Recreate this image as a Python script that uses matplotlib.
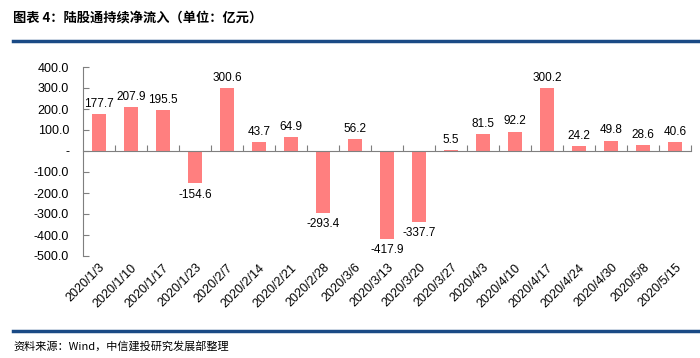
import matplotlib
matplotlib.use("Agg")
import matplotlib.pyplot as plt
from matplotlib.ticker import FuncFormatter, FixedLocator

plt.rcParams['font.family'] = ['Liberation Sans', 'Noto Sans CJK SC', 'DejaVu Sans']

dates = ["2020/1/3", "2020/1/10", "2020/1/17", "2020/1/23", "2020/2/7", "2020/2/14",
         "2020/2/21", "2020/2/28", "2020/3/6", "2020/3/13", "2020/3/20", "2020/3/27",
         "2020/4/3", "2020/4/10", "2020/4/17", "2020/4/24", "2020/4/30", "2020/5/8", "2020/5/15"]
values = [177.7, 207.9, 195.5, -154.6, 300.6, 43.7, 64.9, -293.4, 56.2, -417.9, -337.7,
          5.5, 81.5, 92.2, 300.2, 24.2, 49.8, 28.6, 40.6]
yticks = [400, 300, 200, 100, 0, -100, -200, -300, -400, -500]

title = "图表 4：陆股通持续净流入（单位：亿元）"
source = "资料来源：Wind，中信建投研究发展部整理"

bar_color = "#FF7F7F"
navy = "#1A4A85"
gray = "#7F7F7F"

fig = plt.figure(figsize=(7.0, 3.58), dpi=100)
ax = fig.add_axes([83/700, (358-256)/358, (691-83)/700, (256-67)/358])

x = list(range(len(dates)))
bars = ax.bar(x, values, width=0.42, color=bar_color, zorder=2)

for xi, v in zip(x, values):
    if v >= 0:
        ax.annotate(f"{v:.1f}", (xi, v), xytext=(0, 3), textcoords="offset points",
                    ha="center", va="bottom", fontsize=8.5)
    else:
        ax.annotate(f"{v:.1f}", (xi, v), xytext=(0, -4), textcoords="offset points",
                    ha="center", va="top", fontsize=8.5)

ax.set_xlim(-0.5, len(dates) - 0.5)
ax.set_ylim(-500, 400)
ax.set_yticks(yticks)
ax.yaxis.set_major_formatter(FuncFormatter(lambda v, p: "-" if v == 0 else f"{v:.1f}"))
ax.tick_params(axis="y", direction="in", length=4, color=gray, labelsize=9, pad=10)

for s in ["top", "right"]:
    ax.spines[s].set_visible(False)
ax.spines["left"].set_color(gray)
ax.spines["bottom"].set_position(("data", 0))
ax.spines["bottom"].set_color(gray)
ax.xaxis.set_major_locator(FixedLocator([i + 0.5 for i in range(len(dates) - 1)] + [len(dates) - 0.5]))
ax.tick_params(axis="x", direction="in", length=4, color=gray, labelbottom=False)

sec = ax.secondary_xaxis("bottom")
sec.set_xticks(x)
sec.set_xticklabels(dates, rotation=45, ha="right", rotation_mode="anchor", fontsize=9)
sec.spines["bottom"].set_visible(False)
sec.tick_params(axis="x", length=0, pad=4)

fig.text(13/700, 1 - 18/358, title, fontsize=9.5, fontweight="bold", va="center", ha="left",
         family=['Noto Sans CJK SC', 'DejaVu Sans'])
fig.add_artist(plt.Line2D([13/700, 1.0], [1 - 41/358] * 2, color=navy, lw=2.5))
fig.add_artist(plt.Line2D([13/700, 1.0], [1 - 331/358] * 2, color=navy, lw=2.5))
fig.text(13/700, 1 - 346/358, source, fontsize=8, style="italic", va="center", ha="left",
         family=['Noto Sans CJK SC', 'DejaVu Sans'])

fig.savefig("out.png", dpi=100)
